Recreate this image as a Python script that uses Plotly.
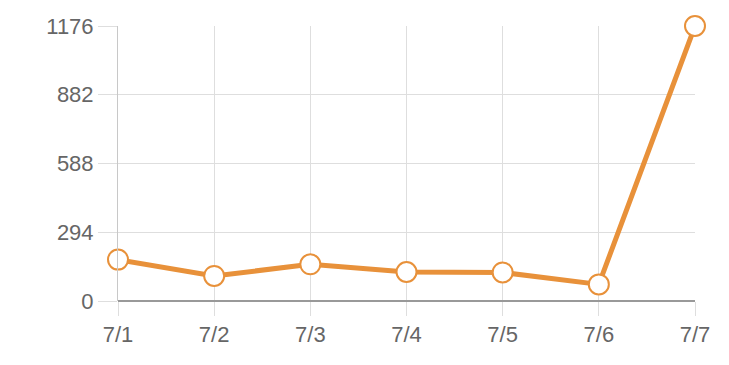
import plotly.graph_objects as go

categories = ["7/1", "7/2", "7/3", "7/4", "7/5", "7/6", "7/7"]
values = [177, 107, 157, 124, 122, 71, 1176]
y_ticks = [0, 294, 588, 882, 1176]

orange = "#E8913A"

fig = go.Figure()
fig.add_trace(go.Scatter(
    x=categories, y=values, mode="lines+markers",
    line=dict(color=orange, width=5),
    marker=dict(size=20, color="white", line=dict(color=orange, width=2)),
    cliponaxis=False, hoverinfo="x+y",
))

fig.update_layout(
    width=729, height=365,
    margin=dict(l=118, r=34, t=26, b=64),
    paper_bgcolor="white", plot_bgcolor="white",
    showlegend=False,
    font=dict(family="Liberation Sans, Arial, sans-serif", size=22, color="#666666"),
    xaxis=dict(
        type="category", range=[0, 6],
        showgrid=True, gridcolor="#dedede", gridwidth=1,
        ticks="outside", ticklen=14, tickcolor="#dedede",
        showline=False, zeroline=False,
        tickfont=dict(size=22, color="#666666"),
    ),
    yaxis=dict(
        range=[0, 1176], tickvals=y_ticks, ticktext=[str(v) for v in y_ticks],
        showgrid=True, gridcolor="#dedede", gridwidth=1,
        ticks="outside", ticklen=19, tickcolor="#dedede",
        showline=True, linecolor="#c8c8c8", linewidth=1,
        zeroline=True, zerolinecolor="#999999", zerolinewidth=2,
        tickfont=dict(size=22, color="#666666"),
    ),
)

fig.write_html("out.html")
